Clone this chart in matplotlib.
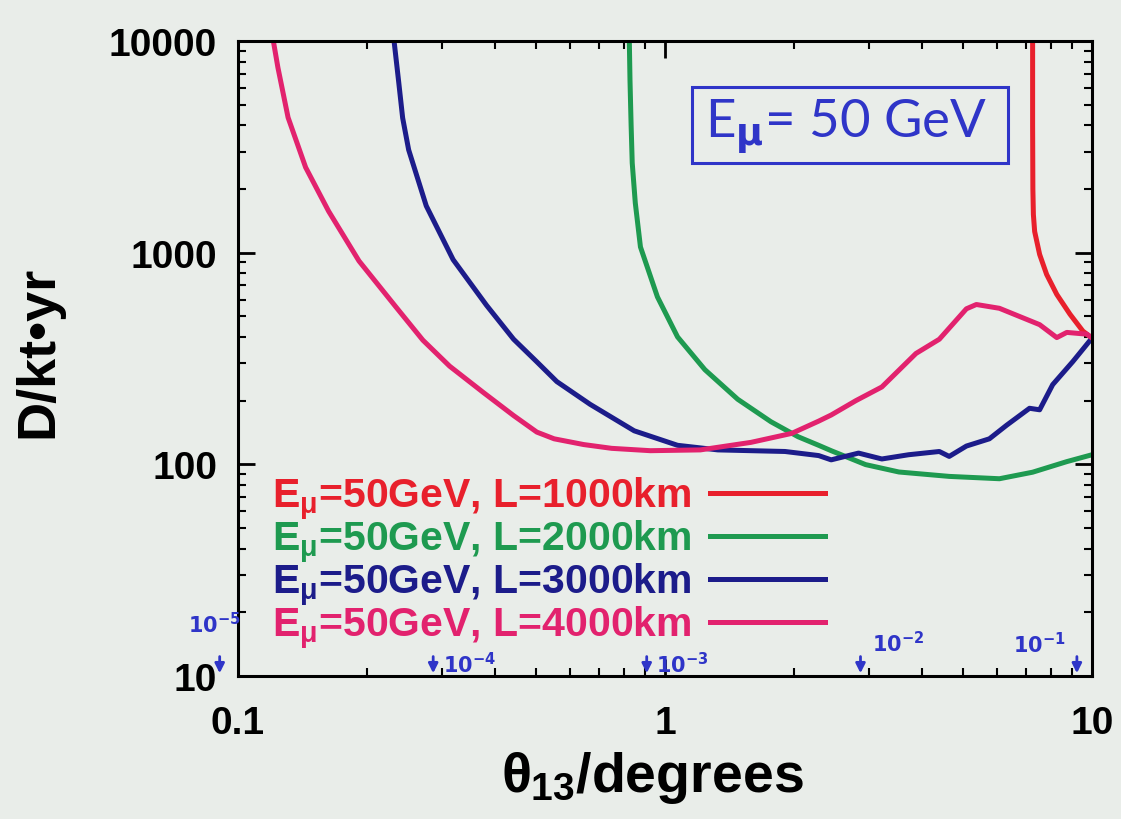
import numpy as np
import matplotlib
matplotlib.use('Agg')
import matplotlib.pyplot as plt
from matplotlib.patches import Rectangle

plt.rcParams.update({'font.family': ['Liberation Sans', 'DejaVu Sans'],
                     'font.weight': 'bold',
                     'axes.labelweight': 'bold',
                     'mathtext.fontset': 'custom',
                     'mathtext.rm': 'Liberation Sans:bold',
                     'mathtext.it': 'Liberation Sans:bold',
                     'mathtext.bf': 'Liberation Sans:bold',
                     'axes.linewidth': 2.2,
                     'xtick.direction': 'in',
                     'ytick.direction': 'in',
                     'xtick.top': True,
                     'ytick.right': True,
                     })

bg = '#e9ede9'
hand_blue = '#2f35c8'

# D/kt.yr needed vs theta13 (degrees), E_mu = 50 GeV
x_1000 = [7.26, 7.26, 7.27, 7.29, 7.34, 7.54, 7.83, 8.27, 8.88, 9.52, 10.0]
y_1000 = [10000, 4000, 2000, 1514, 1259, 981, 789, 635, 512, 426, 395]

x_2000 = [0.825, 0.828, 0.833, 0.838, 0.852, 0.876, 0.960, 1.07, 1.24, 1.48,
          1.77, 2.05, 2.29, 2.45, 2.95, 3.53, 4.63, 6.07, 7.26, 8.73, 10.0]
y_2000 = [10000, 6500, 4000, 2655, 1717, 1064, 618, 400, 280, 203,
          159, 135, 123, 116, 99.7, 92, 87.7, 85.5, 91.8, 103, 111]

x_3000 = [0.232, 0.238, 0.243, 0.251, 0.276, 0.319, 0.382, 0.442, 0.501, 0.558,
          0.668, 0.847, 1.07, 1.33, 1.91, 2.29, 2.45, 2.84, 3.22, 3.72,
          4.39, 4.63, 5.08, 5.75, 6.31, 7.14, 7.54, 8.09, 9.02, 10.0]
y_3000 = [10000, 6340, 4330, 3060, 1663, 927, 564, 390, 305, 246,
          192, 144, 123, 117, 115, 110, 105, 113, 106, 111,
          115, 109, 122, 132, 153, 184, 181, 238, 306, 395]

x_4000 = [0.121, 0.124, 0.131, 0.144, 0.163, 0.192, 0.234, 0.271, 0.313, 0.376,
          0.442, 0.501, 0.55, 0.645, 0.75, 0.924, 1.21, 1.59, 1.98, 2.29,
          2.45, 2.8, 3.22, 3.87, 4.39, 5.08, 5.36, 6.07, 7.54, 8.27,
          8.73, 9.73, 10.0]
y_4000 = [10000, 7500, 4350, 2530, 1570, 914, 556, 386, 291, 218,
          170, 142, 132, 124, 119, 116, 117, 127, 140, 160,
          171, 200, 232, 334, 390, 543, 569, 546, 457, 397,
          420, 412, 395]

labels = [r'E$_\mu$=50GeV, L=1000km', r'E$_\mu$=50GeV, L=2000km',
          r'E$_\mu$=50GeV, L=3000km', r'E$_\mu$=50GeV, L=4000km']
colors = ['#e8202c', '#1e9a50', '#1c1c8a', '#e2226e']

# sin^2(2 theta13) marks along the x axis
sin2_marks = [1e-5, 1e-4, 1e-3, 1e-2, 1e-1]
sin2_text = [r'$10^{-5}$', r'$10^{-4}$', r'$10^{-3}$', r'$10^{-2}$', r'$10^{-1}$']

fig = plt.figure(figsize=(11.21, 8.2), dpi=100, facecolor=bg)
ax = fig.add_axes([238/1121, 1 - 677/820, 854/1121, 635/820], facecolor=bg)

series = [(x_1000, y_1000), (x_2000, y_2000), (x_3000, y_3000), (x_4000, y_4000)]
for (xs, ys), lab, c in zip(series, labels, colors):
    ax.plot(xs, ys, color=c, lw=3.6, label=lab, solid_joinstyle='round')

ax.set_xscale('log')
ax.set_yscale('log')
ax.set_xlim(0.1, 10)
ax.set_ylim(10, 10000)
ax.set_xticks([0.1, 1, 10], ['0.1', '1', '10'])
ax.set_yticks([10, 100, 1000, 10000], ['10', '100', '1000', '10000'])
ax.tick_params(which='major', length=12, width=2, labelsize=28)
ax.tick_params(which='minor', length=6, width=1.5)
ax.tick_params(axis='x', pad=21)
ax.tick_params(axis='y', pad=15)

ax.set_xlabel(r'$\theta_{13}$/degrees', fontsize=40, fontweight='bold')
ax.xaxis.set_label_coords(0.485, -0.115)
ax.set_ylabel('D/kt•yr', fontsize=39, fontweight='bold')
ax.yaxis.set_label_coords(-0.205, 0.512)

leg = ax.legend(loc='center left', bbox_to_anchor=(0.04, 0.178), frameon=False,
                markerfirst=False, fontsize=29.5, handlelength=2.8,
                handletextpad=0.45, labelspacing=-0.1, borderpad=0,
                borderaxespad=0)
for t, c in zip(leg.get_texts(), colors):
    t.set_color(c)

# boxed energy label
ax.add_patch(Rectangle((0.532, 0.808), 0.37, 0.12, transform=ax.transAxes,
                       fill=False, edgecolor=hand_blue, lw=2.2))
ax.text(0.712, 0.866, r'E$_{\mathrm{\mu}}$= 50 GeV', transform=ax.transAxes,
        fontsize=38, color=hand_blue, family='Lato', fontweight='normal',
        math_fontfamily='dejavusans', ha='center', va='center')

# hand-written sin^2 2theta arrows
offsets = [(-4, 38), (7, 9), (7, 9), (8, 24), (-8, 23)]
for s, txt, (dx, dy) in zip(sin2_marks, sin2_text, offsets):
    th = np.degrees(0.5 * np.arcsin(np.sqrt(s)))
    ax.annotate('', xy=(th, 10), xytext=(0, 16), textcoords='offset points',
                arrowprops=dict(arrowstyle='-|>', color=hand_blue, lw=2,
                                mutation_scale=14),
                annotation_clip=False)
    ax.annotate(txt, xy=(th, 10), xytext=(dx, dy), textcoords='offset points',
                color=hand_blue, fontsize=15, math_fontfamily='dejavusans',
                ha='left' if dx > 0 else ('right' if dx < -5 else 'center'),
                va='center', annotation_clip=False)

fig.savefig('out.png', dpi=100, facecolor=bg)
